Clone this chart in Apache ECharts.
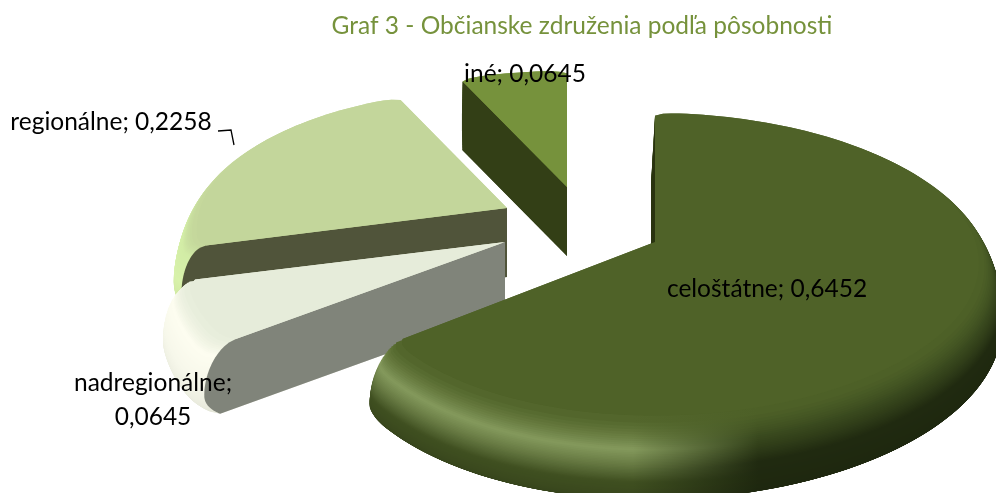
<!DOCTYPE html>
<html><head><meta charset="utf-8">
<style>html,body{margin:0;padding:0;background:#fff}#c{width:996px;height:493px}</style>
<script src="https://cdn.jsdelivr.net/npm/echarts@6/dist/echarts.min.js"></script>
</head><body><div id="c"></div>
<script>
const categories = ['celoštátne', 'nadregionálne', 'regionálne', 'iné'];
const values = [0.6452, 0.0645, 0.2258, 0.0645];
const titleText = 'Graf 3 - Občianske združenia podľa pôsobnosti';

/* drawing styles, one entry per slice */
const apexes = [[655, 242], [505, 242], [507, 208], [567, 187]];
const leans = [4, 0, 0, 0];
const spread = [.985, 1.05, 1.02, 1];
const backScale = [1, 1, .92, .9];
const faceColors = ['#29330f', '#80847a', '#50543a', '#333f16'];
const rimLeft = [
  [[0, '#33401a'], [.45, '#3f4f20'], [.8, '#84995c'], [1, '#4f6228']],
  [[0, '#e4e6d8'], [.5, '#f6f7ea'], [.85, '#fdfdf0'], [1, '#e6ecda']],
  [[0, '#c9e09c'], [.5, '#d8f2aa'], [.85, '#d2eca6'], [1, '#c3d69b']],
  [[0, '#333f16'], [.5, '#3a4a1a'], [.85, '#8aa24c'], [1, '#76923c']]
];
const rimRight = [
  [[0, '#1d260e'], [.6, '#202a10'], [.85, '#3a4a1e'], [1, '#4f6228']],
  [[0, '#c4c8ba'], [.5, '#d8dccc'], [.85, '#e6ecda'], [1, '#e6ecda']],
  [[0, '#8a9a6a'], [.5, '#a8bc84'], [.85, '#c3d69b'], [1, '#c3d69b']],
  [[0, '#333f16'], [.5, '#4a5c24'], [.85, '#76923c'], [1, '#76923c']]
];
const labelPos = [[767, 289], [153, 400], [111, 122], [525, 74]];

const RAD_A = 333, RAD_B = 14, RAD_Y = 158, PERSP = .222, DEPTH = 69, T_MID = .35, TOP_INSET = .06, CORNER = .025;
const LAYERS = 64, FONT = 'Lato, "Open Sans", sans-serif';

function hex(c) { return [1, 3, 5].map(i => parseInt(c.substr(i, 2), 16)); }
function ramp(stops, t) {
  for (let i = 1; i < stops.length; i++) if (t <= stops[i][0]) {
    const [a, ca] = stops[i - 1], [b, cb] = stops[i], f = (t - a) / (b - a);
    const A = hex(ca), B = hex(cb);
    return 'rgb(' + A.map((x, j) => Math.round(x + (B[j] - x) * f)).join(',') + ')';
  }
  return stops[stops.length - 1][1];
}
function profile(t) {
  if (t >= T_MID) { const q = (t - T_MID) / (1 - T_MID); return TOP_INSET * (1 - Math.sqrt(Math.max(0, 1 - q * q))); }
  const q = (T_MID - t) / T_MID; return .03 * q * q;
}
function pt(i, th, m, t) {
  const U = m * Math.sin(th), V = m * Math.cos(th), s = 1 / (1 + PERSP * V), up = 1 - t;
  const ys = V > 0 ? backScale[i] : 1;
  return [apexes[i][0] + (RAD_A * U + RAD_B * U * U) * s * spread[i] - leans[i] * up,
          apexes[i][1] - RAD_Y * V * s * ys + DEPTH * up];
}
function radial(th, t) {
  return 1 - profile(t) * (1 - .95 * Math.cos(th));
}
function sectorPts(i, a0, a1, t) {
  const span = a1 - a0, d0 = Math.min(.1, span / 2), out = [pt(i, 0, 0, t)], n = Math.ceil(span / .03);
  for (let k = 0; k <= n; k++) {
    const th = a0 + span * k / n, d = Math.min(th - a0, a1 - th);
    let f = 1; if (d < d0) { const q = (d0 - d) / d0; f = 1 - CORNER * (1 - Math.sqrt(1 - q * q)); }
    out.push(pt(i, th, radial(th, t) * f, t));
  }
  return out;
}
const total = values.reduce((a, b) => a + b, 0);

function renderItem(params, api) {
  const i = params.dataIndex, val = api.value(0);
  let before = 0; for (let j = 0; j < i; j++) before += values[j];
  const a0 = before / total * 2 * Math.PI, a1 = (before + val) / total * 2 * Math.PI;
  const base = (3 - i) * 1000, kids = [];
  for (let k = 0; k <= LAYERS; k++) {
    const t = k / LAYERS;
    const fill = new echarts.graphic.LinearGradient(i === 0 ? 370 : 150, 0, i === 0 ? 996 : 520, 0, [
      { offset: 0, color: ramp(rimLeft[i], t) }, { offset: .42, color: ramp(rimLeft[i], t) },
      { offset: .62, color: ramp(rimRight[i], t) }, { offset: 1, color: ramp(rimRight[i], t) }], true);
    kids.push({ type: 'polygon', z2: base + k, shape: { points: sectorPts(i, a0, a1, t) }, style: { fill } });
  }
  const face = [pt(i, 0, 0, 1)];
  for (let k = LAYERS; k >= 0; k--) { const t = k / LAYERS; face.push(pt(i, a0, radial(a0, t) * (1 - CORNER), t)); }
  face.push(pt(i, 0, 0, 0));
  kids.push({ type: 'polygon', z2: base + LAYERS + 1, shape: { points: face }, style: { fill: faceColors[i] } });
  kids.push({ type: 'polygon', z2: base + LAYERS + 2, shape: { points: sectorPts(i, a0, a1, 1) }, style: { fill: ramp(rimLeft[i], 1) } });
  const num = String(val).replace('.', ',');
  const sep = categories[i] === 'nadregionálne' ? ';\n' : '; ';
  kids.push({ type: 'text', z2: 9000, style: { text: categories[i] + sep + num, x: labelPos[i][0], y: labelPos[i][1],
    fill: '#000', font: '400 24.5px ' + FONT, align: 'center', verticalAlign: 'middle', lineHeight: 34 } });
  return { type: 'group', children: kids };
}

const chart = echarts.init(document.getElementById('c'), null, { renderer: 'canvas' });
chart.setOption({
  animation: false,
  backgroundColor: '#fff',
  title: { text: titleText, left: 577, top: 9, textAlign: 'center',
    textStyle: { color: '#76923c', fontFamily: FONT, fontSize: 24.5, fontWeight: 400 } },
  series: [{ type: 'custom', coordinateSystem: 'none', renderItem, silent: true, data: values.map(v => [v]) }],
  graphic: [{ type: 'polyline', z: 100, shape: { points: [[218, 131], [231, 130], [234, 145]] }, style: { stroke: '#000', lineWidth: 1.3, fill: 'none' } }]
});
</script></body></html>
